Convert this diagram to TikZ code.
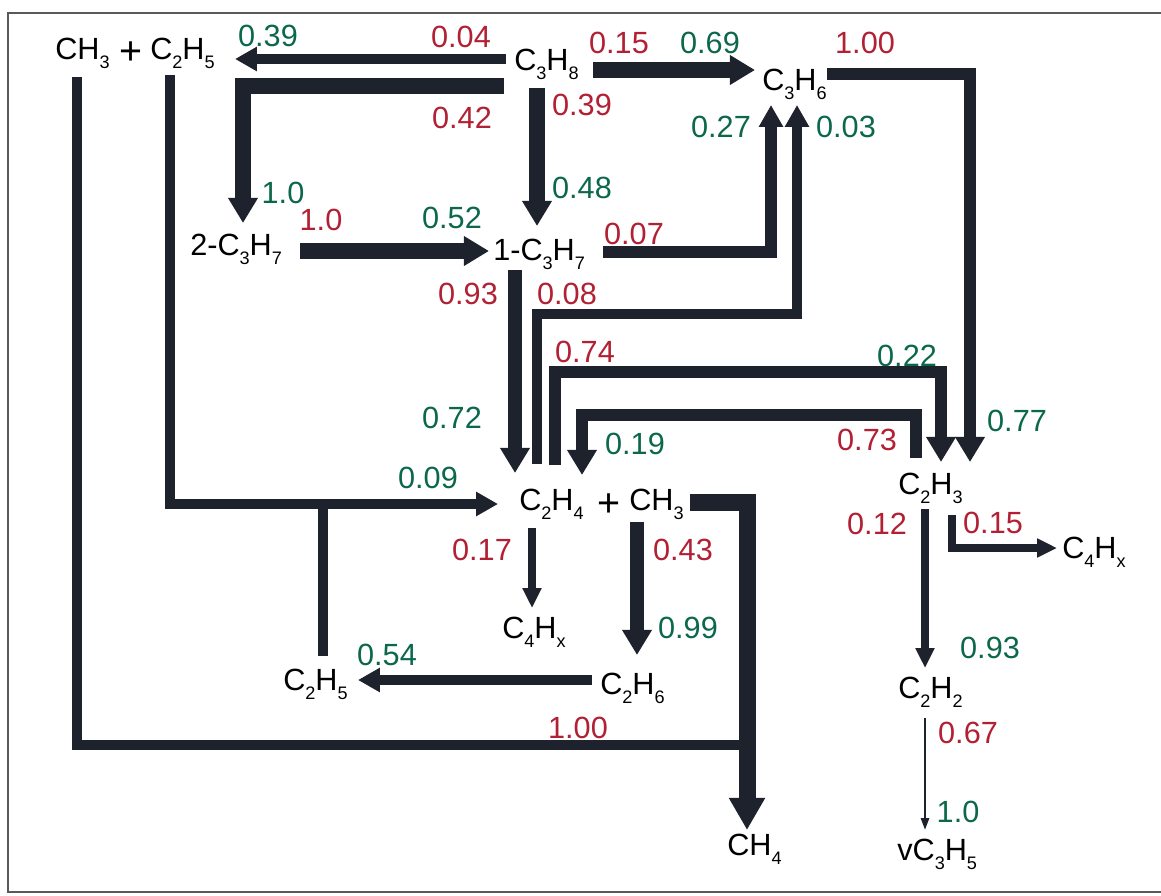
\documentclass[tikz,border=0pt]{standalone}
\usepackage{fontspec}
\setmainfont{Liberation Sans}
\usetikzlibrary{arrows.meta,calc}
\definecolor{ink}{RGB}{30,34,44}
\definecolor{numred}{RGB}{178,32,52}
\definecolor{numgreen}{RGB}{12,104,76}
\newcommand{\chs}[1]{\raisebox{-0.29em}{\scalebox{0.59}{#1}}}

\begin{document}
\begin{tikzpicture}[x=0.025cm,y=-0.025cm,
  sp/.style={anchor=west,inner sep=0pt,text height=15.6pt,text depth=0pt,font=\fontsize{21.8}{26}\selectfont},
  rd/.style={text=numred,inner sep=0pt,text height=15.6pt,text depth=0pt,font=\fontsize{21.8}{26}\selectfont},
  gn/.style={rd,text=numgreen},
  plussign/.style={inner sep=0pt,font=\fontsize{28}{30}\selectfont},
  flow/.style={draw=ink,line width=#1},
  hugehead/.style={-{Triangle[length=22.8pt,width=24.2pt]}},
  bighead/.style={-{Triangle[length=17.8pt,width=20pt]}},
  midhead/.style={-{Triangle[length=15.6pt,width=16.4pt]}},
  smallhead/.style={-{Triangle[length=14.2pt,width=12.8pt]}},
  thinhead/.style={-{Triangle[length=8.5pt,width=5.7pt]}}]
  \useasboundingbox (0,0) rectangle (1161,895);
  % frame of the scanned page
  \draw[gray!70!black,line width=1.2pt] (1161,13) -- (8,13) -- (8,892) -- (1161,892);

  % species
  \node[sp] (ch3a) at (55,49) {CH\chs{3}};
  \node[plussign] (plusa) at (131,53) {+};
  \node[sp] (c2h5a) at (150,49) {C\chs{2}H\chs{5}};
  \node[sp] (c3h8) at (514,60) {C\chs{3}H\chs{8}};
  \node[sp] (c3h6) at (762,80) {C\chs{3}H\chs{6}};
  \node[sp] (c3h7b) at (190,245) {2-C\chs{3}H\chs{7}};
  \node[sp] (c3h7a) at (493,250) {1-C\chs{3}H\chs{7}};
  \node[sp] (c2h4) at (519,500) {C\chs{2}H\chs{4}};
  \node[plussign] (plusb) at (609,505) {+};
  \node[sp] (ch3b) at (629,500) {CH\chs{3}};
  \node[sp] (c2h3) at (898,484) {C\chs{2}H\chs{3}};
  \node[sp] (c4hxa) at (502,628) {C\chs{4}H\chs{x}};
  \node[sp] (c4hxb) at (1062,548) {C\chs{4}H\chs{x}};
  \node[sp] (c2h5b) at (283,680) {C\chs{2}H\chs{5}};
  \node[sp] (c2h6) at (600,684) {C\chs{2}H\chs{6}};
  \node[sp] (c2h2) at (898,688) {C\chs{2}H\chs{2}};
  \node[sp] (ch4) at (727,845) {CH\chs{4}};
  \node[sp] (vc3h5) at (897,850) {vC\chs{3}H\chs{5}};

  % branching ratios (red: consumption, green: formation)
  \node[rd] (r1) at (461,37) {0.04};   \node[gn] (g1) at (268,36) {0.39};
  \node[rd] (r2) at (462,118) {0.42};  \node[gn] (g2) at (283,193) {1.0};
  \node[rd] (r3) at (582,105) {0.39};  \node[gn] (g3) at (582,188) {0.48};
  \node[rd] (r4) at (619,43) {0.15};   \node[gn] (g4) at (710,43) {0.69};
  \node[rd] (r5) at (321,220) {1.0};   \node[gn] (g5) at (452,218) {0.52};
  \node[rd] (r6) at (634,234) {0.07};  \node[gn] (g6) at (721,127) {0.27};
  \node[rd] (r7) at (468,294) {0.93};  \node[gn] (g7) at (452,418) {0.72};
  \node[rd] (r8) at (567,294) {0.08};  \node[gn] (g8) at (846,127) {0.03};
  \node[rd] (r9) at (585,352) {0.74};  \node[gn] (g9) at (907,356) {0.22};
  \node[rd] (r10) at (867,440) {0.73}; \node[gn] (g10) at (635,444) {0.19};
  \node[rd] (r11) at (865,43) {1.00};  \node[gn] (g11) at (1017,421) {0.77};
  \node[gn] (g12) at (428,478) {0.09};
  \node[rd] (r13) at (482,550) {0.17};
  \node[rd] (r14) at (683,550) {0.43}; \node[gn] (g14) at (688,628) {0.99};
  \node[gn] (g15) at (387,655) {0.54};
  \node[rd] (r17) at (578,728) {1.00};
  \node[rd] (r18) at (877,524) {0.12}; \node[gn] (g18) at (990,648) {0.93};
  \node[rd] (r19) at (993,523) {0.15};
  \node[rd] (r20) at (968,733) {0.67}; \node[gn] (g20) at (958,812) {1.0};

  % fluxes
  \draw[flow=7.1pt,midhead] ($(c3h8.west)+(-8,-1)$) -- ($(c2h5a.west)+(85,10)$);
  \draw[flow=11.4pt,bighead] ($(c3h8.west)+(-10,26)$) -| ($(c3h7b.west)+(53,-22)$);
  \draw[flow=10.7pt,bighead] ($(c3h8.west)+(23,28)$) -- ($(c3h7a.west)+(44,-24)$);
  \draw[flow=10.7pt,bighead] ($(c3h8.west)+(79,10)$) -- ($(c3h6.west)+(-7,-10)$);
  \draw[flow=11.4pt,bighead] ($(c3h7b.west)+(110,6)$) -- ($(c3h7a.west)+(-4,1)$);
  \draw[flow=8.5pt,midhead] ($(c3h7a.west)+(110,2)$) -| ($(c3h6.west)+(9,25)$);
  \draw[flow=10pt,bighead] ($(c3h7a.west)+(22,20)$) -- ($(c2h4.west)+(-4,-27)$);
  \draw[flow=7.8pt,midhead] ($(c2h4.west)+(18,-36)$) -- ++(0,-150) -| ($(c3h6.west)+(35,25)$);
  \draw[flow=8.5pt,bighead] ($(c2h4.west)+(36,-35)$) -- ++(0,-93) -| ($(c2h3.west)+(43,-22)$);
  \draw[flow=8.5pt,bighead] ($(c2h3.west)+(18,-26)$) -- ++(0,-43) -| ($(c2h4.west)+(63,-25)$);
  \draw[flow=9.2pt,bighead] ($(c3h6.west)+(65,-6)$) -| ($(c2h3.west)+(72,-22)$);
  \draw[flow=7.1pt,midhead] ($(c2h5a.west)+(20,26)$) |- ($(c2h4.west)+(-21,4)$);
  \draw[flow=7.1pt] ($(c2h5b.west)+(40,-24)$) -- ++(0,-152);
  \draw[flow=5.7pt,smallhead] ($(c2h4.west)+(13,28)$) -- ($(c4hxa.west)+(30,-20)$);
  \draw[flow=10pt,bighead] ($(ch3b.west)+(8,22)$) -- ($(c2h6.west)+(37,-29)$);
  \draw[flow=7.8pt,midhead] ($(c2h6.west)+(-8,-4)$) -- ($(c2h5b.west)+(75,0)$);
  \draw[flow=7.1pt] ($(ch3a.west)+(22,28)$) |- ($(ch4.west)+(20,-100)$);
  \draw[flow=12.1pt,hugehead] ($(ch3b.west)+(61,2)$) -| ($(ch4.west)+(20,-15)$);
  \draw[flow=5.7pt,smallhead] ($(c2h3.west)+(27,25)$) -- ($(c2h2.west)+(27,-20)$);
  \draw[flow=5.7pt,smallhead] ($(c2h3.west)+(54,31)$) |- ($(c4hxb.west)+(-5,0)$);
  \draw[flow=1.8pt,thinhead] ($(c2h2.west)+(27,30)$) -- ($(vc3h5.west)+(28,-20)$);
\end{tikzpicture}
\end{document}
